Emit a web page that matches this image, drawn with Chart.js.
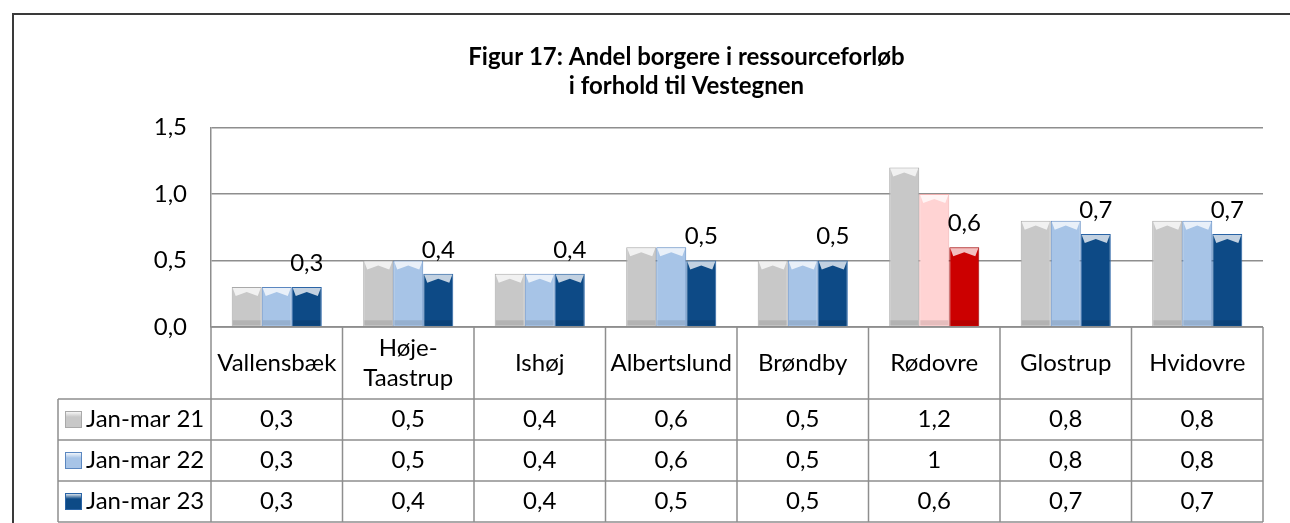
<!DOCTYPE html>
<html>
<head>
<meta charset="utf-8">
<script src="https://cdn.jsdelivr.net/npm/chart.js@4/dist/chart.umd.min.js"></script>
<style>
  body { margin: 0; background: #fff; }
  #wrap { width: 1290px; height: 523px; position: relative; }
</style>
</head>
<body>
<div id="wrap"><canvas id="chart"></canvas></div>
<script>
// Municipalities (x categories) and the three quarters being compared.
const categories = ["Vallensbæk", ["Høje-", "Taastrup"], "Ishøj", "Albertslund", "Brøndby", "Rødovre", "Glostrup", "Hvidovre"];
const seriesNames = ["Jan-mar 21", "Jan-mar 22", "Jan-mar 23"];
const janMar21 = [0.3, 0.5, 0.4, 0.6, 0.5, 1.2, 0.8, 0.8];
const janMar22 = [0.3, 0.5, 0.4, 0.6, 0.5, 1, 0.8, 0.8];
const janMar23 = [0.3, 0.4, 0.4, 0.5, 0.5, 0.6, 0.7, 0.7];
const yTicks = [0, 0.5, 1.0, 1.5];
const titleLines = ["Figur 17: Andel borgere i ressourceforløb", "i forhold til Vestegnen"];

const FONT = "Lato";
const highlight = "Rødovre";

// Colours per series; the highlighted municipality gets red tones.
const baseColors = ["#c8c8c8", "#a7c4e7", "#0d4a86"];
const borderColors = ["#a9a9a9", "#5b87c0", "#2a64a6"];
const hiColors = ["#c8c8c8", "#ffd3d3", "#cc0000"];
const hiBorders = ["#a9a9a9", "#f0b0b0", "#a00000"];

function catName(c) {
  return Array.isArray(c) ? c.join("") : c;
}
function fmt(v) {
  return String(v).replace(".", ",");
}
function colorsFor(i, palette, hiPalette) {
  return categories.map(c => catName(c) === highlight ? hiPalette[i] : palette[i]);
}

const seriesData = [janMar21, janMar22, janMar23];
const datasets = seriesData.map((d, i) => ({
  label: seriesNames[i],
  data: d,
  backgroundColor: colorsFor(i, baseColors, hiColors),
  borderColor: colorsFor(i, borderColors, hiBorders),
  borderWidth: 1,
  categoryPercentage: 0.685,
  barPercentage: 1.0
}));

// Simple bevel: light chevron at the top of each bar, soft shadow at the bottom.
const bevelPlugin = {
  id: "bevel",
  afterDatasetsDraw(chart) {
    const ctx = chart.ctx;
    chart.data.datasets.forEach((ds, di) => {
      chart.getDatasetMeta(di).data.forEach(bar => {
        const w = bar.width, l = bar.x - w / 2, r = bar.x + w / 2, t = bar.y, b = bar.base;
        const h = Math.min(9, (b - t) / 3);
        ctx.save();
        ctx.fillStyle = "rgba(255,255,255,0.75)";
        ctx.beginPath();
        ctx.moveTo(l + 1, t + 1);
        ctx.lineTo(r - 1, t + 1);
        ctx.lineTo(r - 4, t + h);
        ctx.lineTo(bar.x, t + h * 0.55);
        ctx.lineTo(l + 4, t + h);
        ctx.closePath();
        ctx.fill();
        ctx.fillStyle = "rgba(0,0,0,0.10)";
        ctx.fillRect(l + 1, b - 6, w - 2, 5);
        ctx.restore();
      });
    });
  }
};

// Value labels above the last series only.
const valueLabels = {
  id: "valueLabels",
  afterDatasetsDraw(chart) {
    const ctx = chart.ctx;
    const last = chart.data.datasets.length - 1;
    ctx.save();
    ctx.font = `24px ${FONT}`;
    ctx.fillStyle = "#000";
    ctx.textAlign = "center";
    ctx.textBaseline = "middle";
    chart.getDatasetMeta(last).data.forEach((bar, i) => {
      ctx.fillText(fmt(chart.data.datasets[last].data[i]), bar.x, bar.y - 24);
    });
    ctx.restore();
  }
};

// Data table under the plot, aligned to the category scale, plus outer frame.
const dataTable = {
  id: "dataTable",
  afterDraw(chart) {
    const ctx = chart.ctx;
    const area = chart.chartArea;
    const xs = chart.scales.x;
    const n = categories.length;
    const colW = (area.right - area.left) / n;
    const top = area.bottom;
    const rowTops = [top + 72, top + 113, top + 154, top + 195];
    const legendLeft = 58;

    ctx.save();
    ctx.strokeStyle = "#8e8e8e";
    ctx.lineWidth = 1.5;
    ctx.beginPath();
    ctx.moveTo(area.left, top);
    ctx.lineTo(area.right, top);
    rowTops.forEach(y => {
      ctx.moveTo(legendLeft, y);
      ctx.lineTo(area.right, y);
    });
    for (let i = 0; i <= n; i++) {
      const x = area.left + i * colW;
      ctx.moveTo(x, top);
      ctx.lineTo(x, rowTops[3]);
    }
    ctx.moveTo(legendLeft, rowTops[0]);
    ctx.lineTo(legendLeft, rowTops[3]);
    ctx.stroke();

    ctx.fillStyle = "#000";
    ctx.font = `24px ${FONT}`;
    ctx.textAlign = "center";
    ctx.textBaseline = "middle";
    const headMid = (top + rowTops[0]) / 2;
    categories.forEach((c, i) => {
      const x = xs.getPixelForValue(i);
      if (Array.isArray(c)) {
        ctx.fillText(c[0], x, headMid - 15);
        ctx.fillText(c[1], x, headMid + 15);
      } else {
        ctx.fillText(c, x, headMid);
      }
    });

    seriesData.forEach((d, r) => {
      const mid = (rowTops[r] + rowTops[r + 1]) / 2;
      d.forEach((v, i) => {
        ctx.textAlign = "center";
        ctx.fillText(fmt(v), xs.getPixelForValue(i), mid);
      });
      // legend key
      const sx = legendLeft + 7, sz = 17;
      const g = ctx.createLinearGradient(sx, mid - sz / 2, sx, mid + sz / 2);
      g.addColorStop(0, "#ffffff");
      g.addColorStop(0.35, baseColors[r]);
      g.addColorStop(1, baseColors[r]);
      ctx.fillStyle = g;
      ctx.fillRect(sx, mid - sz / 2, sz, sz);
      ctx.strokeStyle = borderColors[r];
      ctx.lineWidth = 1;
      ctx.strokeRect(sx + 0.5, mid - sz / 2 + 0.5, sz - 1, sz - 1);
      ctx.fillStyle = "#000";
      ctx.textAlign = "left";
      ctx.fillText(seriesNames[r], sx + sz + 4, mid);
    });

    // chart frame
    ctx.strokeStyle = "#3a3a3a";
    ctx.lineWidth = 2;
    ctx.beginPath();
    ctx.moveTo(13, chart.height);
    ctx.lineTo(13, 14);
    ctx.lineTo(chart.width, 14);
    ctx.stroke();
    ctx.restore();
  }
};

new Chart(document.getElementById("chart"), {
  type: "bar",
  data: {
    labels: categories.map(catName),
    datasets: datasets
  },
  options: {
    responsive: true,
    maintainAspectRatio: false,
    animation: false,
    layout: { padding: { left: 110, right: 27, top: 0, bottom: 196 } },
    plugins: {
      legend: { display: false },
      tooltip: { enabled: false },
      title: {
        display: true,
        text: titleLines,
        color: "#000",
        font: { family: FONT, size: 24, weight: "bold", lineHeight: 1.2 },
        padding: { top: 43, bottom: 27 }
      }
    },
    scales: {
      x: { display: false },
      y: {
        min: 0,
        max: 1.5,
        afterFit(scale) { scale.width = 101; },
        afterBuildTicks(scale) { scale.ticks = yTicks.map(v => ({ value: v })); },
        ticks: {
          color: "#000",
          padding: 24,
          font: { family: FONT, size: 24 },
          callback: v => v.toFixed(1).replace(".", ",")
        },
        grid: { color: "#8e8e8e", lineWidth: 1.5, drawTicks: false },
        border: { color: "#8e8e8e", width: 1.5 }
      }
    }
  },
  plugins: [bevelPlugin, valueLabels, dataTable]
});
</script>
</body>
</html>
